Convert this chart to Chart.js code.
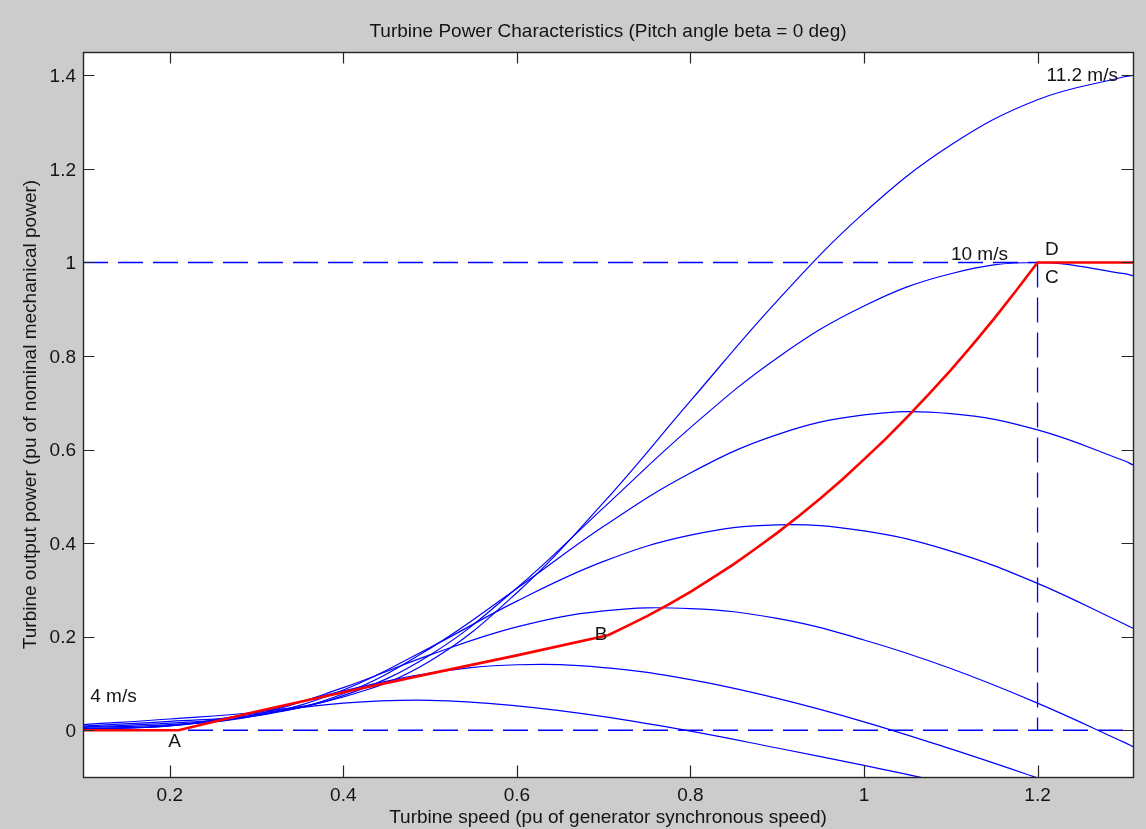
<!DOCTYPE html>
<html>
<head>
<meta charset="utf-8">
<script src="https://cdn.jsdelivr.net/npm/chart.js@4.4.1/dist/chart.umd.min.js"></script>
<style>
  html, body { margin: 0; padding: 0; background: #cccccc; }
  canvas { display: block; }
</style>
</head>
<body>
<canvas id="chart" width="1146" height="829"></canvas>
<script>
// Turbine speed grid (pu of generator synchronous speed)
const speed = [0.1, 0.2, 0.3, 0.4, 0.5, 0.6, 0.7, 0.8, 0.9, 1.0, 1.1, 1.2, 1.3, 1.31];

// Turbine output power (pu) for each wind speed, beta = 0 deg
const power4   = [0.002, 0.010, 0.036, 0.058, 0.064, 0.052, 0.029, -0.002, -0.038, -0.075, -0.114, -0.149, -0.189, -0.193];
const power5_2 = [0.003, 0.009, 0.038, 0.084, 0.122, 0.140, 0.134, 0.108, 0.068, 0.018, -0.040, -0.102, -0.166, -0.172];
const power6_4 = [0.004, 0.010, 0.034, 0.091, 0.161, 0.221, 0.255, 0.260, 0.239, 0.193, 0.132, 0.058, -0.026, -0.035];
const power7_6 = [0.006, 0.012, 0.031, 0.086, 0.177, 0.276, 0.361, 0.417, 0.439, 0.426, 0.383, 0.314, 0.227, 0.218];
const power8_8 = [0.007, 0.015, 0.031, 0.078, 0.175, 0.303, 0.436, 0.550, 0.632, 0.674, 0.677, 0.642, 0.576, 0.567];
const power10  = [0.009, 0.019, 0.033, 0.074, 0.161, 0.304, 0.476, 0.647, 0.796, 0.907, 0.976, 1.000, 0.976, 0.972];
const power11_2 = [0.012, 0.024, 0.039, 0.071, 0.148, 0.294, 0.487, 0.704, 0.918, 1.106, 1.251, 1.348, 1.397, 1.400];

// Tracking characteristic A-B-C-D
const trackSpeed = [0.1, 0.21, 0.3, 0.4, 0.5, 0.6, 0.705, 0.725, 0.75, 0.775, 0.8, 0.825, 0.85, 0.875, 0.9, 0.925, 0.95, 0.975,
                    1.0, 1.025, 1.05, 1.075, 1.1, 1.125, 1.15, 1.175, 1.2, 1.31];
const trackPower = [0, 0, 0.040, 0.081, 0.121, 0.160, 0.203, 0.221, 0.244, 0.269, 0.296, 0.325, 0.355, 0.388, 0.422, 0.458, 0.496, 0.536,
                    0.579, 0.623, 0.670, 0.719, 0.770, 0.824, 0.880, 0.939, 1.0, 1.0];

// Reference lines: zero power, rated power, rated speed
const zeroLineSpeed = [0.1, 1.31];
const zeroLinePower = [0, 0];
const ratedLineSpeed = [0.1, 1.2];
const ratedLinePower = [1, 1];
const ratedSpeedLineSpeed = [1.2, 1.2];
const ratedSpeedLinePower = [1, 0];

// Tick labels
const xTicks = [0.2, 0.4, 0.6, 0.8, 1.0, 1.2];
const yTicks = [0, 0.2, 0.4, 0.6, 0.8, 1.0, 1.2, 1.4];

// Text notes on the plot
const titleText = 'Turbine Power Characteristics (Pitch angle beta = 0 deg)';
const noteText = ['A', 'B', 'C', 'D', '4 m/s', '10 m/s', '11.2 m/s'];
const noteSpeed = [0.2055, 0.697, 1.2164, 1.2164, 0.1083, 1.1002, 1.2103];
const notePower = [-0.021, 0.207, 0.9705, 1.030, 0.0749, 1.019, 1.4023];
const noteAlign = ['center', 'center', 'center', 'center', 'left', 'left', 'left'];

const FONT = "'Liberation Sans', Arial, sans-serif";
const FONT_SIZE = 19;
const TEXT = '#141414';
const BLUE = '#0000ff';
const RED = '#ff0000';

const pts = (xs, ys) => xs.map((x, i) => ({ x: x, y: ys[i] }));

function curve(values) {
  return {
    data: pts(speed, values),
    borderColor: BLUE, borderWidth: 1.2,
    tension: 0.4,
    pointRadius: 0, clip: 0, order: 1
  };
}
function dashed(xs, ys) {
  return {
    data: pts(xs, ys),
    borderColor: BLUE, borderWidth: 1.3, borderDash: [25, 10],
    pointRadius: 0, tension: 0, clip: 0, order: 2
  };
}

// Figure background, white axes box, title, frame and inward ticks on all four sides
const axesBox = {
  id: 'axesBox',
  beforeDraw(chart) {
    const { ctx, chartArea: a } = chart;
    ctx.save();
    ctx.fillStyle = '#cccccc';
    ctx.fillRect(0, 0, chart.width, chart.height);
    ctx.fillStyle = '#ffffff';
    ctx.fillRect(a.left, a.top, a.right - a.left, a.bottom - a.top);
    ctx.font = FONT_SIZE + 'px ' + FONT;
    ctx.fillStyle = TEXT;
    ctx.textAlign = 'center';
    ctx.textBaseline = 'alphabetic';
    ctx.fillText(titleText, (a.left + a.right) / 2, 36.5);
    ctx.restore();
  },
  afterDatasetsDraw(chart) {
    const { ctx } = chart;
    const sx = chart.scales.x, sy = chart.scales.y;
    ctx.save();
    ctx.font = FONT_SIZE + 'px ' + FONT;
    ctx.fillStyle = TEXT;
    ctx.textBaseline = 'alphabetic';
    noteText.forEach((t, i) => {
      ctx.textAlign = noteAlign[i];
      ctx.fillText(t, sx.getPixelForValue(noteSpeed[i]),
                   sy.getPixelForValue(notePower[i]) + 0.36 * FONT_SIZE);
    });
    ctx.restore();
  },
  afterDraw(chart) {
    const { ctx, chartArea: a } = chart;
    const sx = chart.scales.x, sy = chart.scales.y;
    const len = 11.5;
    ctx.save();
    ctx.strokeStyle = '#262626';
    ctx.lineWidth = 1.2;
    ctx.beginPath();
    sx.ticks.forEach(t => {
      const p = Math.round(sx.getPixelForValue(t.value)) + 0.5;
      ctx.moveTo(p, a.bottom); ctx.lineTo(p, a.bottom - len);
      ctx.moveTo(p, a.top); ctx.lineTo(p, a.top + len);
    });
    sy.ticks.forEach(t => {
      const p = Math.round(sy.getPixelForValue(t.value)) + 0.5;
      ctx.moveTo(a.left, p); ctx.lineTo(a.left + len, p);
      ctx.moveTo(a.right, p); ctx.lineTo(a.right - len, p);
    });
    ctx.stroke();
    ctx.lineWidth = 1.4;
    ctx.strokeRect(Math.round(a.left) + 0.5, Math.round(a.top) + 0.5,
                   Math.round(a.right - a.left), Math.round(a.bottom - a.top));
    ctx.restore();
  }
};

const fmt = v => String(+Number(v).toFixed(1));

new Chart(document.getElementById('chart'), {
  type: 'line',
  data: {
    datasets: [
      {
        data: pts(trackSpeed, trackPower),
        borderColor: RED, borderWidth: 2.6, tension: 0,
        pointRadius: 0, clip: 0, order: 0
      },
      curve(power4), curve(power5_2), curve(power6_4), curve(power7_6),
      curve(power8_8), curve(power10), curve(power11_2),
      dashed(zeroLineSpeed, zeroLinePower),
      dashed(ratedLineSpeed, ratedLinePower),
      dashed(ratedSpeedLineSpeed, ratedSpeedLinePower)
    ]
  },
  options: {
    responsive: false,
    animation: false,
    devicePixelRatio: 1,
    layout: { padding: { left: 0, right: 13, top: 52, bottom: 0 } },
    plugins: {
      legend: { display: false },
      tooltip: { enabled: false },
      title: { display: false }
    },
    scales: {
      x: {
        type: 'linear', position: 'bottom', min: 0.1, max: 1.31,
        grid: { display: false, drawTicks: false },
        border: { display: false },
        afterBuildTicks: s => { s.ticks = xTicks.map(v => ({ value: v })); },
        afterFit: s => { s.height = 52; },
        ticks: {
          color: TEXT, padding: 7, maxRotation: 0, autoSkip: false,
          font: { family: FONT, size: FONT_SIZE },
          callback: v => fmt(v)
        },
        title: {
          display: true,
          text: 'Turbine speed (pu of generator synchronous speed)',
          color: TEXT, padding: { top: 0, bottom: 0 },
          font: { family: FONT, size: FONT_SIZE }
        }
      },
      y: {
        type: 'linear', position: 'left', min: -0.1, max: 1.45,
        grid: { display: false, drawTicks: false },
        border: { display: false },
        afterBuildTicks: s => { s.ticks = yTicks.map(v => ({ value: v })); },
        afterFit: s => { s.width = 83; },
        ticks: {
          color: TEXT, padding: 7, autoSkip: false, labelOffset: 1.5,
          font: { family: FONT, size: FONT_SIZE },
          callback: v => fmt(v)
        },
        title: {
          display: true,
          text: 'Turbine output power (pu of nominal mechanical power)',
          color: TEXT, padding: { top: 19, bottom: 0 },
          font: { family: FONT, size: FONT_SIZE }
        }
      }
    }
  },
  plugins: [axesBox]
});
</script>
</body>
</html>
